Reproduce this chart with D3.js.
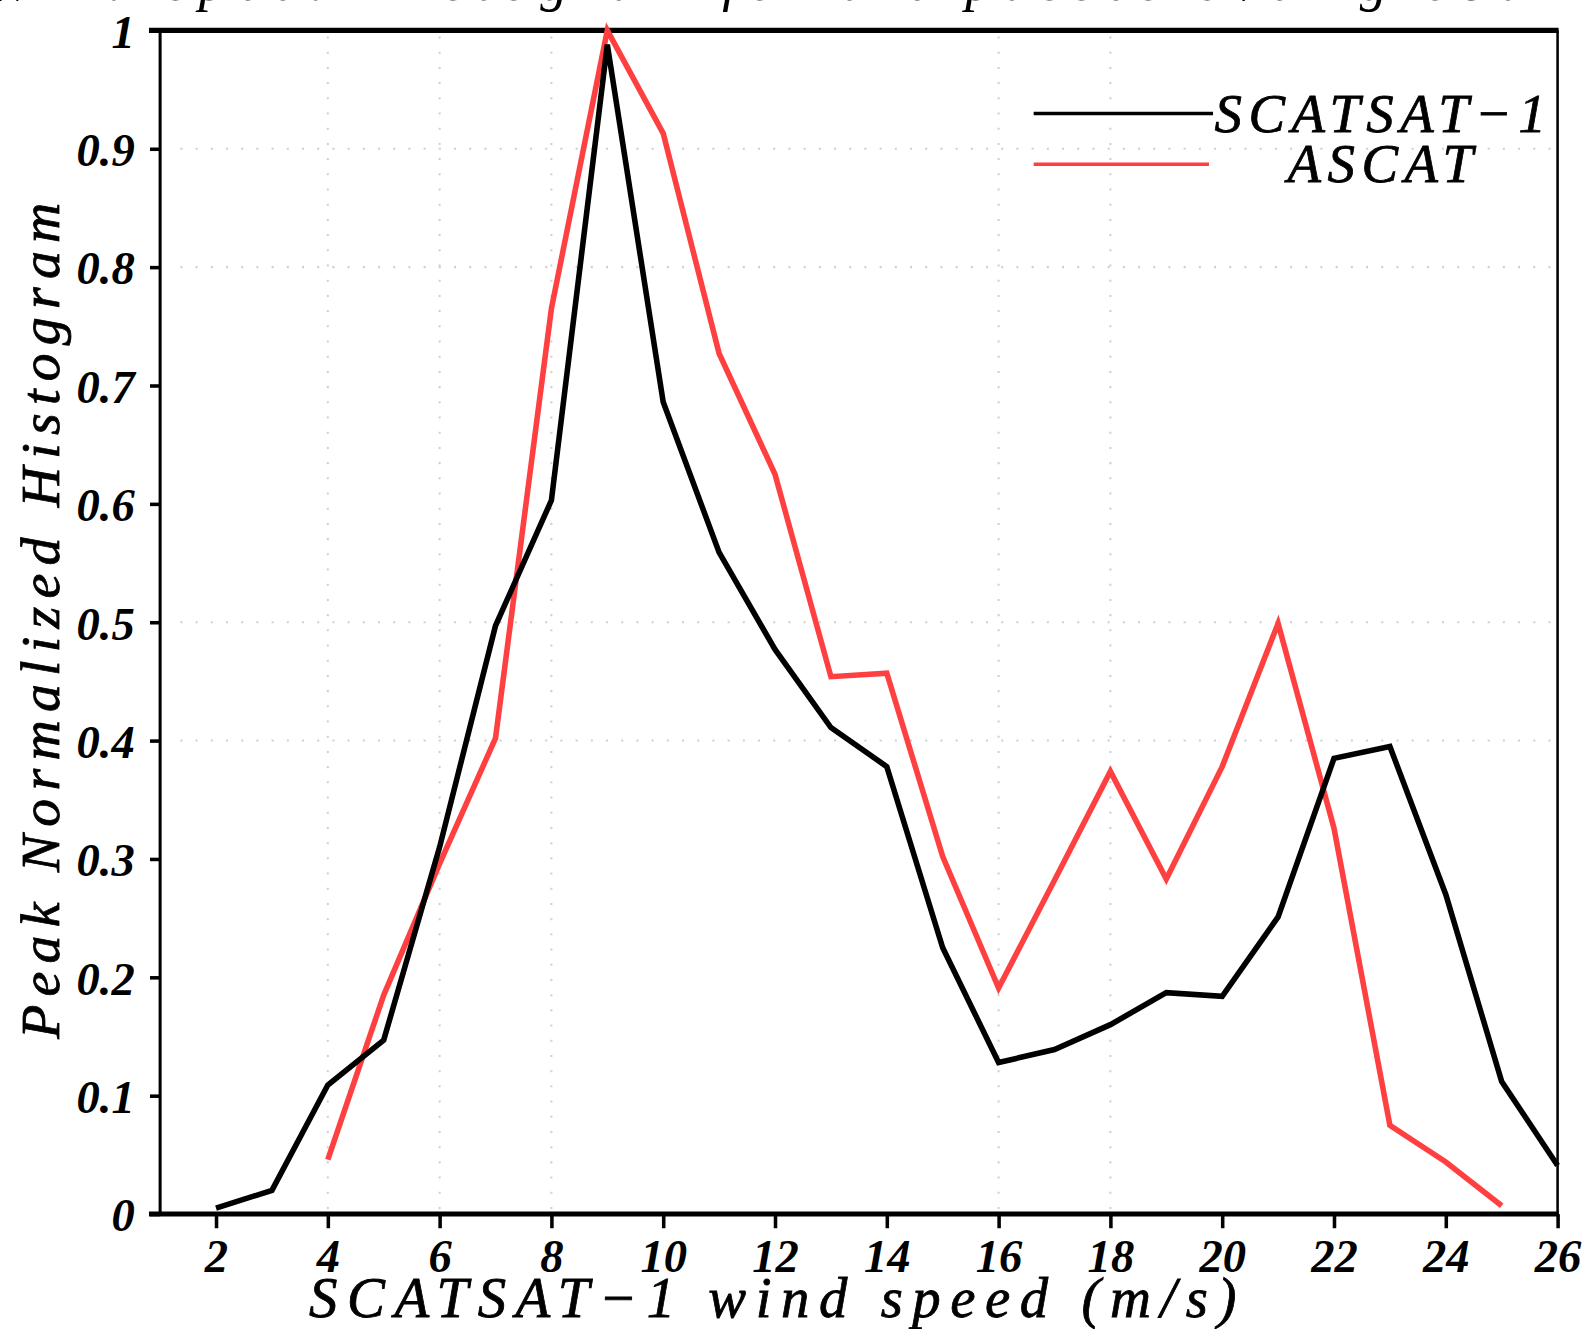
<!DOCTYPE html>
<html>
<head>
<meta charset="utf-8">
<script src="https://cdn.jsdelivr.net/npm/d3@7"></script>
<style>
  html, body { margin: 0; padding: 0; background: #fff; }
  svg text { font-family: "Liberation Serif", "DejaVu Serif", serif; font-style: italic; fill: #000; }
</style>
</head>
<body>
<div id="chart"></div>
<script>
// wind speed bins (m/s) and peak normalized histogram values
const scatsatSpeed = [2, 3, 4, 5, 6, 7, 8, 9, 10, 11, 12, 13, 14, 15, 16, 17, 18, 19, 20, 21, 22, 23, 24, 25, 26];
const scatsatPeak = [0.005, 0.020, 0.109, 0.147, 0.310, 0.497, 0.603, 0.988, 0.686, 0.559, 0.477, 0.411, 0.378, 0.225,
  0.128, 0.139, 0.160, 0.187, 0.184, 0.251, 0.385, 0.395, 0.270, 0.112, 0.041];

const ascatSpeed = [4, 5, 6, 7, 8, 9, 10, 11, 12, 13, 14, 15, 16, 17, 18, 19, 20, 21, 22, 23, 24, 25];
const ascatPeak = [0.046, 0.185, 0.296, 0.402, 0.765, 1.0, 0.913, 0.727, 0.625, 0.454, 0.457, 0.302,
  0.191, 0.282, 0.374, 0.283, 0.378, 0.499, 0.326, 0.075, 0.044, 0.007];

const xTicks = [2, 4, 6, 8, 10, 12, 14, 16, 18, 20, 22, 24, 26];
const yTicks = [0, 0.1, 0.2, 0.3, 0.4, 0.5, 0.6, 0.7, 0.8, 0.9, 1];
const gridX = [4, 6, 8, 16, 18];
const gridY = [0.4, 0.5, 0.8, 0.9];

const series = [
  { name: "SCATSAT\u22121", x: scatsatSpeed, y: scatsatPeak, color: "#000000" },
  { name: "ASCAT", x: ascatSpeed, y: ascatPeak, color: "#ff4040" },
];

const W = 1589, H = 1329;
// layout was measured on a 1568px wide copy of the figure
const k = W / 1568;
const margin = { left: 158, top: 30, right: 31, bottom: 113 };
const innerW = 1568 - margin.left - margin.right;
const innerH = 1311 - margin.top - margin.bottom;

const svg = d3.select("#chart").append("svg")
  .attr("width", W).attr("height", H)
  .attr("viewBox", `0 0 ${W} ${H}`);
const root = svg.append("g").attr("transform", `scale(${k})`);

const x = d3.scaleLinear().domain([1, 26]).range([margin.left, margin.left + innerW]);
const y = d3.scaleLinear().domain([0, 1]).range([margin.top + innerH, margin.top]);

// title, cut off at top of the page
root.append("text")
  .attr("x", -12).attr("y", 0)
  .attr("font-size", 54)
  .attr("textLength", 1749).attr("lengthAdjust", "spacing")
  .text("Wind speed Histogram for the passes over global ocean");

// dotted grid
const grid = root.append("g").attr("stroke", "#cfcfcf").attr("stroke-width", 2)
  .attr("stroke-dasharray", "2,13");
grid.selectAll("line.gx").data(gridX).join("line").attr("class", "gx")
  .attr("x1", (d) => x(d)).attr("x2", (d) => x(d))
  .attr("y1", y(1) + 6).attr("y2", y(0));
grid.selectAll("line.gy").data(gridY).join("line").attr("class", "gy")
  .attr("x1", x(1) + 20).attr("x2", x(26))
  .attr("y1", (d) => y(d)).attr("y2", (d) => y(d));

// axes
const fmtY = (d) => (d === 0 ? "0" : d === 1 ? "1" : d3.format(".1f")(d));

const yAxis = root.append("g")
  .attr("transform", `translate(${margin.left},0)`)
  .call(d3.axisLeft(y).tickValues(yTicks).tickFormat(fmtY).tickSize(10).tickSizeOuter(0).tickPadding(15));
const xAxis = root.append("g")
  .attr("transform", `translate(0,${margin.top + innerH})`)
  .call(d3.axisBottom(x).tickValues(xTicks).tickSize(14).tickSizeOuter(0).tickPadding(6));

[yAxis, xAxis].forEach((g) => {
  g.select(".domain").remove();
  g.selectAll(".tick line").attr("stroke", "#000").attr("stroke-width", 3.5);
  g.selectAll(".tick text")
    .attr("font-family", "Liberation Serif, DejaVu Serif, serif")
    .attr("font-style", "italic").attr("font-weight", 700)
    .attr("font-size", 46).attr("fill", "#000");
});
yAxis.selectAll(".tick text").attr("dy", "0.36em");
xAxis.selectAll(".tick text").attr("dy", "0.8em");

// frame
const frame = root.append("g").attr("stroke", "#000").attr("fill", "none");
frame.append("line").attr("x1", x(1) - 11).attr("x2", x(26) + 1)
  .attr("y1", y(1)).attr("y2", y(1)).attr("stroke-width", 5);
frame.append("line").attr("x1", x(1) - 11).attr("x2", x(26) + 1)
  .attr("y1", y(0)).attr("y2", y(0)).attr("stroke-width", 5);
frame.append("line").attr("x1", x(1)).attr("x2", x(1))
  .attr("y1", y(1)).attr("y2", y(0)).attr("stroke-width", 3);
frame.append("line").attr("x1", x(26)).attr("x2", x(26))
  .attr("y1", y(1)).attr("y2", y(0)).attr("stroke-width", 2.5);

// data lines
const line = d3.line().x((d) => x(d[0])).y((d) => y(d[1]));
root.append("g").selectAll("path").data(series.slice().reverse()).join("path")
  .attr("d", (s) => line(s.x.map((v, i) => [v, s.y[i]])))
  .attr("fill", "none")
  .attr("stroke", (s) => s.color)
  .attr("stroke-width", 5.5)
  .attr("stroke-linejoin", "miter");

// legend
const legend = root.append("g");
const legendRows = [
  { s: series[0], ly: 112, ty: 130, x2: 1197, len: 327 },
  { s: series[1], ly: 162, ty: 180, x2: 1193, len: 183 },
];
legendRows.forEach((r) => {
  legend.append("line").attr("x1", 1020).attr("x2", r.x2)
    .attr("y1", r.ly).attr("y2", r.ly)
    .attr("stroke", r.s.color).attr("stroke-width", 3.5);
  legend.append("text").attr("x", 1362).attr("y", r.ty)
    .attr("text-anchor", "middle").attr("font-size", 54)
    .attr("stroke", "#000").attr("stroke-width", 0.8)
    .attr("textLength", r.len).attr("lengthAdjust", "spacing")
    .text(r.s.name);
});

// axis titles
root.append("text")
  .attr("x", 305).attr("y", 1300)
  .attr("font-size", 56)
  .attr("stroke", "#000").attr("stroke-width", 0.8)
  .attr("textLength", 915).attr("lengthAdjust", "spacing")
  .text("SCATSAT\u22121 wind speed (m/s)");

root.append("text")
  .attr("transform", "translate(58,1025) rotate(-90)")
  .attr("font-size", 55)
  .attr("stroke", "#000").attr("stroke-width", 0.8)
  .attr("textLength", 825).attr("lengthAdjust", "spacing")
  .text("Peak Normalized Histogram");
</script>
</body>
</html>
